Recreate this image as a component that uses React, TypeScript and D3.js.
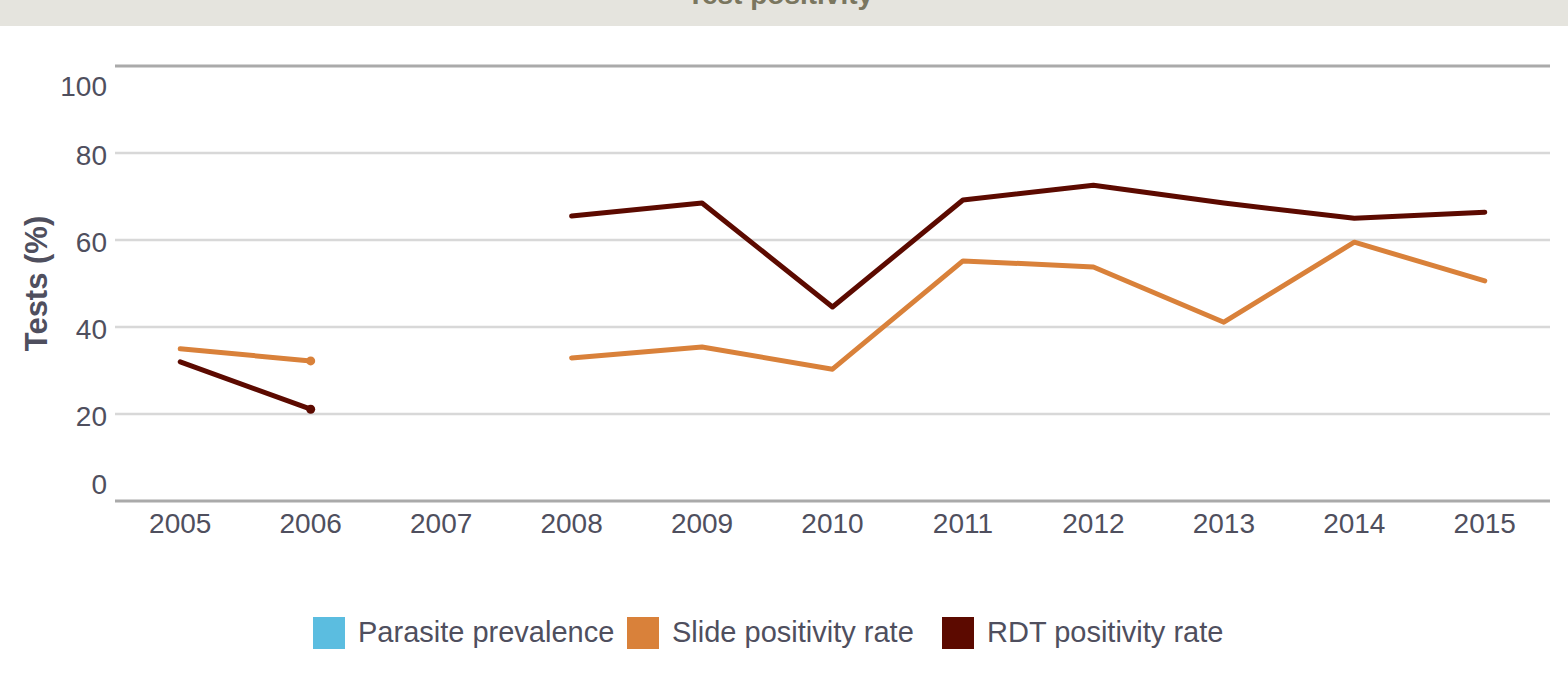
import React from "react";
import * as d3 from "d3";

const years = ["2005", "2006", "2007", "2008", "2009", "2010", "2011", "2012", "2013", "2014", "2015"];
const parasitePrevalence: (number | null)[] = [null, null, null, null, null, null, null, null, null, null, null];
const slidePositivity: (number | null)[] = [35, 32.2, null, 32.9, 35.4, 30.3, 55.2, 53.8, 41.1, 59.5, 50.6];
const rdtPositivity: (number | null)[] = [32, 21.1, null, 65.5, 68.5, 44.6, 69.2, 72.6, 68.5, 65, 66.4];
const yTicks = [0, 20, 40, 60, 80, 100];

const series = [
  { name: "Parasite prevalence", color: "#5bbde0", values: parasitePrevalence },
  { name: "Slide positivity rate", color: "#d9813a", values: slidePositivity },
  { name: "RDT positivity rate", color: "#5c0a00", values: rdtPositivity },
];

const width = 1568;
const height = 687;
const margin = { top: 66, right: 18, bottom: 186, left: 115 };
const font = "'Liberation Sans', Arial, Helvetica, sans-serif";
const textColor = "#4f4f5e";

const App = () => {
  const xScale = d3
    .scaleBand()
    .domain(years)
    .range([margin.left, width - margin.right]);
  const yScale = d3
    .scaleLinear()
    .domain([0, 100])
    .range([height - margin.bottom, margin.top]);

  const line = d3
    .line<number | null>()
    .defined((d) => d != null)
    .x((_, i) => (xScale(years[i]) as number) + xScale.bandwidth() / 2)
    .y((d) => yScale(d as number));

  // isolated ends like 2006 get a marker dot
  const markers = (values: (number | null)[]) =>
    values
      .map((v, i) => ({ v, i }))
      .filter(({ v, i }) => v != null && i > 0 && values[i - 1] != null && values[i + 1] == null && i + 1 < values.length);

  const legendX = [313, 627, 942];

  return (
    <div style={{ position: "fixed", left: 0, top: 0 }}>
      <svg width={width} height={height} style={{ display: "block", background: "#fff" }}>
        <rect x={0} y={0} width={width} height={26} fill="#e5e4de" />
        <text x={780} y={4} textAnchor="middle" fontFamily={font} fontWeight="bold" fontSize={28} fill="#7a765f">
          Test positivity
        </text>

        {yTicks.map((t) => (
          <line
            key={t}
            x1={margin.left}
            x2={width - margin.right}
            y1={yScale(t)}
            y2={yScale(t)}
            stroke={t === 0 || t === 100 ? "#aaaaaa" : "#d8d8d8"}
            strokeWidth={t === 0 || t === 100 ? 3 : 2.5}
          />
        ))}
        {yTicks.map((t) => (
          <text
            key={t}
            x={107}
            y={yScale(t) + (t === 100 ? 20 : t === 0 ? -17 : 2)}
            dy="0.35em"
            textAnchor="end"
            fontFamily={font}
            fontSize={28}
            fill={textColor}
          >
            {t}
          </text>
        ))}
        {years.map((y) => (
          <text
            key={y}
            x={(xScale(y) as number) + xScale.bandwidth() / 2}
            y={533}
            textAnchor="middle"
            fontFamily={font}
            fontSize={28}
            fill={textColor}
          >
            {y}
          </text>
        ))}
        <text
          transform={`translate(47, ${yScale(50)}) rotate(-90)`}
          textAnchor="middle"
          fontFamily={font}
          fontWeight="bold"
          fontSize={31}
          fill={textColor}
        >
          Tests (%)
        </text>

        {series.map((s) => (
          <g key={s.name}>
            <path
              d={line(s.values) || ""}
              fill="none"
              stroke={s.color}
              strokeWidth={5}
              strokeLinecap="round"
              strokeLinejoin="round"
            />
            {markers(s.values).map(({ v, i }) => (
              <circle
                key={i}
                cx={(xScale(years[i]) as number) + xScale.bandwidth() / 2}
                cy={yScale(v as number)}
                r={4.5}
                fill={s.color}
              />
            ))}
          </g>
        ))}

        {series.map((s, i) => (
          <g key={s.name} transform={`translate(${legendX[i]}, 617)`}>
            <rect width={32} height={32} fill={s.color} />
            <text x={45} y={25} fontFamily={font} fontSize={29} fill={textColor}>
              {s.name}
            </text>
          </g>
        ))}
      </svg>
    </div>
  );
};

export default App;
